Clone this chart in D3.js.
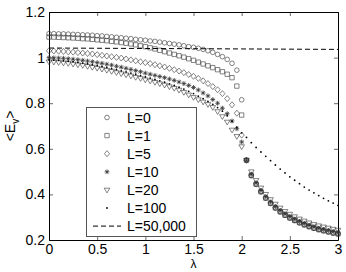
<!DOCTYPE html>
<html>
<head>
<meta charset="utf-8">
<script src="https://cdn.jsdelivr.net/npm/d3@7"></script>
<style>
body { margin: 0; background: #fff; }
svg { display: block; }
text { font-family: "Liberation Sans", Arial, sans-serif; }
</style>
</head>
<body>
<div id="chart"></div>
<script>
/* <E_v> against lambda for several L, markers every 0.05 */

const lambda = [0, 0.05, 0.1, 0.15, 0.2, 0.25, 0.3, 0.35, 0.4, 0.45,
    0.5, 0.55, 0.6, 0.65, 0.7, 0.75, 0.8, 0.85, 0.9, 0.95,
    1, 1.05, 1.1, 1.15, 1.2, 1.25, 1.3, 1.35, 1.4, 1.45,
    1.5, 1.55, 1.6, 1.65, 1.7, 1.75, 1.8, 1.85, 1.9, 1.95,
    2, 2.05, 2.1, 2.15, 2.2, 2.25, 2.3, 2.35, 2.4, 2.45,
    2.5, 2.55, 2.6, 2.65, 2.7, 2.75, 2.8, 2.85, 2.9, 2.95, 3];

const L0 = [1.105, 1.105, 1.104, 1.104, 1.103, 1.102, 1.101, 1.100, 1.099, 1.098,
    1.096, 1.095, 1.093, 1.091, 1.089, 1.087, 1.085, 1.083, 1.080, 1.078,
    1.076, 1.073, 1.071, 1.068, 1.065, 1.062, 1.059, 1.056, 1.052, 1.048,
    1.045, 1.041, 1.036, 1.030, 1.023, 1.014, 1.004, 0.992, 0.975, 0.945,
    0.815, 0.550, 0.482, 0.444, 0.411, 0.383, 0.360, 0.340, 0.323, 0.308,
    0.296, 0.285, 0.275, 0.266, 0.258, 0.251, 0.245, 0.240, 0.235, 0.230, 0.226];

const L1 = [1.090, 1.090, 1.089, 1.088, 1.087, 1.086, 1.085, 1.083, 1.082, 1.080,
    1.078, 1.076, 1.074, 1.071, 1.069, 1.066, 1.063, 1.060, 1.056, 1.052,
    1.048, 1.043, 1.038, 1.032, 1.026, 1.020, 1.014, 1.008, 1.002, 0.995,
    0.988, 0.980, 0.972, 0.964, 0.956, 0.947, 0.938, 0.927, 0.912, 0.875,
    0.748, 0.550, 0.483, 0.445, 0.412, 0.384, 0.361, 0.341, 0.324, 0.309,
    0.297, 0.286, 0.276, 0.267, 0.259, 0.252, 0.246, 0.241, 0.236, 0.231, 0.227];

const L5 = [1.030, 1.029, 1.028, 1.027, 1.025, 1.024, 1.022, 1.020, 1.018, 1.016,
    1.013, 1.010, 1.007, 1.004, 1.001, 0.998, 0.994, 0.990, 0.986, 0.982,
    0.978, 0.974, 0.969, 0.964, 0.959, 0.953, 0.947, 0.941, 0.934, 0.926,
    0.918, 0.909, 0.898, 0.886, 0.873, 0.859, 0.842, 0.820, 0.793, 0.756,
    0.660, 0.550, 0.485, 0.447, 0.414, 0.386, 0.363, 0.343, 0.326, 0.311,
    0.299, 0.288, 0.278, 0.269, 0.261, 0.254, 0.248, 0.243, 0.238, 0.233, 0.229];

const L10 = [1.000, 0.999, 0.998, 0.997, 0.995, 0.993, 0.991, 0.988, 0.985, 0.982,
    0.978, 0.975, 0.971, 0.967, 0.962, 0.958, 0.953, 0.948, 0.943, 0.938,
    0.932, 0.927, 0.922, 0.917, 0.912, 0.906, 0.900, 0.893, 0.886, 0.878,
    0.869, 0.858, 0.845, 0.832, 0.816, 0.800, 0.778, 0.754, 0.722, 0.688,
    0.630, 0.550, 0.488, 0.450, 0.417, 0.389, 0.366, 0.346, 0.329, 0.314,
    0.302, 0.291, 0.281, 0.272, 0.264, 0.257, 0.251, 0.246, 0.241, 0.236, 0.232];

const L20 = [0.982, 0.981, 0.979, 0.977, 0.975, 0.972, 0.969, 0.966, 0.962, 0.958,
    0.954, 0.950, 0.945, 0.940, 0.935, 0.930, 0.925, 0.920, 0.914, 0.909,
    0.903, 0.898, 0.892, 0.886, 0.880, 0.873, 0.866, 0.858, 0.848, 0.837,
    0.826, 0.816, 0.806, 0.795, 0.782, 0.764, 0.742, 0.718, 0.683, 0.655,
    0.610, 0.550, 0.500, 0.462, 0.429, 0.401, 0.378, 0.358, 0.341, 0.326,
    0.314, 0.303, 0.293, 0.284, 0.276, 0.269, 0.263, 0.258, 0.253, 0.248, 0.244];

const L100 = [0.990, 0.989, 0.988, 0.986, 0.984, 0.982, 0.979, 0.976, 0.973, 0.969,
    0.965, 0.961, 0.957, 0.952, 0.947, 0.942, 0.937, 0.932, 0.927, 0.921,
    0.915, 0.910, 0.904, 0.898, 0.892, 0.885, 0.878, 0.870, 0.862, 0.852,
    0.842, 0.831, 0.820, 0.808, 0.795, 0.781, 0.765, 0.745, 0.720, 0.695,
    0.670, 0.650, 0.627, 0.606, 0.586, 0.567, 0.548, 0.529, 0.511, 0.494,
    0.477, 0.462, 0.447, 0.432, 0.419, 0.407, 0.395, 0.383, 0.372, 0.362, 0.352];

// L=50,000 is drawn as a dashed line
const lambdaBig = [0, 0.5, 1, 1.5, 2, 2.5, 3];
const L50000 = [1.042, 1.041, 1.040, 1.039, 1.038, 1.037, 1.036];

const legendLabels = ["L=0", "L=1", "L=5", "L=10", "L=20", "L=100", "L=50,000"];
const xTicks = [0, 0.5, 1, 1.5, 2, 2.5, 3];
const xTickLabels = ["0", "0.5", "1", "1.5", "2", "2.5", "3"];
const yTicks = [0.2, 0.4, 0.6, 0.8, 1, 1.2];
const yTickLabels = ["0.2", "0.4", "0.6", "0.8", "1", "1.2"];

const height = 272,
    width = 346,
    margin = ({ top: 12, right: 8, bottom: 32, left: 49 });

const svg = d3.select("#chart")
    .append("svg")
    .attr("width", width)
    .attr("height", height)
    .attr("viewBox", [0, 0, width, height]);

let x = d3.scaleLinear()
    .domain([0, 3])
    .range([margin.left, width - margin.right]);

let y = d3.scaleLinear()
    .domain([0.2, 1.2])
    .range([height - margin.bottom, margin.top]);

// marker shapes, MATLAB style
const shapes = {
    circle: d3.symbol(d3.symbolCircle, 17)(),
    square: d3.symbol(d3.symbolSquare, 19)(),
    diamond: "M0,-3L2.6,0L0,3L-2.6,0Z",
    star: "M-2.4,0H2.4M0,-2.4V2.4M-1.7,-1.7L1.7,1.7M-1.7,1.7L1.7,-1.7",
    tri: "M-2.8,-1.7L2.8,-1.7L0,3Z"
};

const series = [
    { vals: L0, shape: "circle" },
    { vals: L1, shape: "square" },
    { vals: L5, shape: "diamond" },
    { vals: L10, shape: "star" },
    { vals: L20, shape: "tri" },
    { vals: L100, shape: "dot" }
];

function drawMark(g, shape) {
    if (shape === "dot") {
        g.append("circle").attr("r", 0.9).attr("fill", "#000");
    } else {
        g.append("path")
            .attr("d", shapes[shape])
            .attr("fill", "none")
            .attr("stroke", "#333")
            .attr("stroke-width", shape === "star" ? 0.8 : 0.6);
    }
}

// axes: ticks point inward, box on all four sides
svg.append("g")
    .attr("transform", `translate(0,${height - margin.bottom})`)
    .call(d3.axisBottom(x).tickValues(xTicks).tickFormat((d, i) => xTickLabels[i])
        .tickSize(-4).tickSizeOuter(0).tickPadding(4));

svg.append("g")
    .attr("transform", `translate(0,${margin.top})`)
    .call(d3.axisTop(x).tickValues(xTicks).tickFormat("").tickSize(-4).tickSizeOuter(0));

svg.append("g")
    .attr("transform", `translate(${margin.left},0)`)
    .call(d3.axisLeft(y).tickValues(yTicks).tickFormat((d, i) => yTickLabels[i])
        .tickSize(-4).tickSizeOuter(0).tickPadding(4));

svg.append("g")
    .attr("transform", `translate(${width - margin.right},0)`)
    .call(d3.axisRight(y).tickValues(yTicks).tickFormat("").tickSize(-4).tickSizeOuter(0));

svg.selectAll(".tick text")
    .attr("font-size", 14)
    .attr("font-family", "Liberation Sans, Arial, sans-serif")
    .attr("fill", "#000");
svg.selectAll(".tick line").attr("stroke", "#000").attr("stroke-width", 0.6);
svg.selectAll(".domain").attr("stroke", "#000");

// markers
series.forEach(s => {
    lambda.forEach((l, i) => {
        const g = svg.append("g")
            .attr("transform", `translate(${x(l)},${y(s.vals[i])})`);
        drawMark(g, s.shape);
    });
});

// dashed L=50,000 line
let line = d3.line()
    .x((d, i) => x(lambdaBig[i]))
    .y(d => y(d));

svg.append("path")
    .datum(L50000)
    .attr("d", line)
    .attr("fill", "none")
    .attr("stroke", "#000")
    .attr("stroke-width", 1)
    .attr("stroke-dasharray", "5,3");

// legend
const legX = 86, legY = 107;
svg.append("rect")
    .attr("x", legX + 0.5)
    .attr("y", legY + 0.5)
    .attr("width", 110)
    .attr("height", 129)
    .attr("fill", "#fff")
    .attr("stroke", "#555")
    .attr("stroke-width", 1);

legendLabels.forEach((lab, i) => {
    const cy = legY + 10.5 + i * 18.1;
    if (i < series.length) {
        const g = svg.append("g").attr("transform", `translate(${legX + 21},${cy})`);
        drawMark(g, series[i].shape);
    } else {
        svg.append("line")
            .attr("x1", legX + 7).attr("x2", legX + 35)
            .attr("y1", cy).attr("y2", cy)
            .attr("stroke", "#000")
            .attr("stroke-dasharray", "5,3");
    }
    svg.append("text")
        .attr("x", legX + 41)
        .attr("y", cy + 5)
        .attr("font-size", 14)
        .text(lab);
});

// axis labels
svg.append("text")
    .attr("text-anchor", "middle")
    .attr("x", x(1.5))
    .attr("y", 268)
    .attr("font-size", 12)
    .text("λ");

const yl = svg.append("text")
    .attr("text-anchor", "middle")
    .attr("transform", "translate(15,126) rotate(-90)")
    .attr("font-size", 14);
yl.append("tspan").text("<E");
yl.append("tspan").attr("font-size", 10).attr("dy", 4).text("v");
yl.append("tspan").attr("dy", -4).text(">");
</script>
</body>
</html>
